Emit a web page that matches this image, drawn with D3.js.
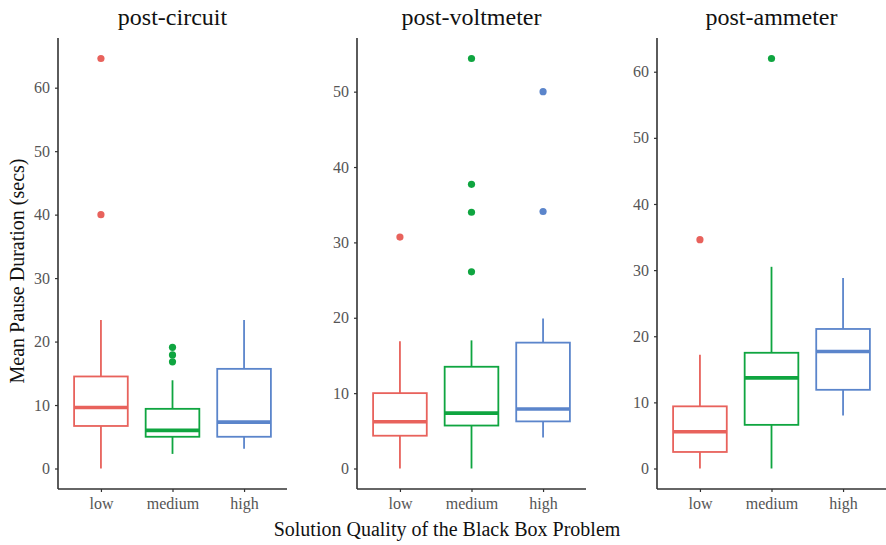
<!DOCTYPE html>
<html>
<head>
<meta charset="utf-8">
<script src="https://cdn.jsdelivr.net/npm/d3@7"></script>
<style>
  body { margin: 0; background: #fff; }
  text { font-family: "Liberation Serif", "Times New Roman", serif; }
</style>
</head>
<body>
<div id="plot"></div>
<script>
// panels and groups
const panelTitles = ["post-circuit", "post-voltmeter", "post-ammeter"]
const categories = ["low", "medium", "high"]
const groupColors = ["#e8625c", "#0fa540", "#5b85cb"]

// box stats per group: [lower whisker, q1, median, q3, upper whisker]
const circuitStats = [[0, 6.7, 9.6, 14.5, 23.4], [2.3, 5.0, 6.0, 9.4, 13.9], [3.1, 5.0, 7.3, 15.7, 23.4]]
const voltmeterStats = [[0, 4.35, 6.2, 10.0, 16.9], [0, 5.7, 7.35, 13.5, 17.0], [4.1, 6.25, 7.9, 16.7, 19.9]]
const ammeterStats = [[0, 2.5, 5.55, 9.4, 17.2], [0, 6.6, 13.7, 17.5, 30.5], [8.0, 11.9, 17.7, 21.1, 28.8]]

// outliers per group
const circuitOutliers = [[40.0, 64.6], [16.8, 17.9, 19.1], []]
const voltmeterOutliers = [[30.7], [26.1, 34.0, 37.7, 54.4], [34.1, 50.0]]
const ammeterOutliers = [[34.6], [62.0], []]

const yTicks = [
  [0, 10, 20, 30, 40, 50, 60],
  [0, 10, 20, 30, 40, 50],
  [0, 10, 20, 30, 40, 50, 60]
]

const statsList = [circuitStats, voltmeterStats, ammeterStats]
const outlierList = [circuitOutliers, voltmeterOutliers, ammeterOutliers]

const W = 886, H = 545
const plotTop = 38, plotBottom = 489
const panelLeft = [58, 357, 657], panelWidth = 229

const svg = d3.select("#plot").append("svg")
  .attr("width", W).attr("height", H)

panelTitles.forEach(function(title, p) {
  const stats = statsList[p], outs = outlierList[p]
  const maxV = d3.max([].concat(stats.map(s => s[4]), ...outs))
  const minV = 0
  const pad = (maxV - minV) * 0.05

  const x = d3.scalePoint().domain(categories)
    .range([panelLeft[p], panelLeft[p] + panelWidth]).padding(0.6)
  const y = d3.scaleLinear().domain([minV - pad, maxV + pad]).range([plotBottom, plotTop])
  const boxW = x.step() * 0.75

  const g = svg.append("g")

  // axes
  const ax = g.append("g").attr("transform", `translate(${panelLeft[p]},0)`)
    .call(d3.axisLeft(y).tickValues(yTicks[p]).tickSize(3).tickPadding(5).tickSizeOuter(0))
  const bx = g.append("g").attr("transform", `translate(0,${plotBottom})`)
    .call(d3.axisBottom(x).tickSize(3).tickPadding(6).tickSizeOuter(0))
  ;[ax, bx].forEach(a => {
    a.select(".domain").attr("stroke", "#333").attr("stroke-width", 1.6)
    a.selectAll(".tick line").attr("stroke", "#333").attr("stroke-width", 1.2)
    a.selectAll(".tick text").attr("fill", "#555").style("font-size", "16px")
      .style("font-family", '"Liberation Serif", serif')
  })
  // x axis spans full panel from y axis
  bx.select(".domain").attr("d", `M${panelLeft[p]},0H${panelLeft[p] + panelWidth}`)
  ax.select(".domain").attr("d", `M0,${plotTop}V${plotBottom}`)

  categories.forEach(function(c, i) {
    const s = stats[i], col = groupColors[i], cx = x(c)
    // whiskers
    g.append("line").attr("x1", cx).attr("x2", cx).attr("y1", y(s[0])).attr("y2", y(s[1]))
      .attr("stroke", col).attr("stroke-width", 1.8)
    g.append("line").attr("x1", cx).attr("x2", cx).attr("y1", y(s[3])).attr("y2", y(s[4]))
      .attr("stroke", col).attr("stroke-width", 1.8)
    // box
    g.append("rect").attr("x", cx - boxW / 2).attr("width", boxW)
      .attr("y", y(s[3])).attr("height", y(s[1]) - y(s[3]))
      .attr("fill", "#fff").attr("stroke", col).attr("stroke-width", 1.8)
    // median
    g.append("line").attr("x1", cx - boxW / 2).attr("x2", cx + boxW / 2)
      .attr("y1", y(s[2])).attr("y2", y(s[2]))
      .attr("stroke", col).attr("stroke-width", 3.6)
    // outliers
    g.selectAll(null).data(outs[i]).enter().append("circle")
      .attr("cx", cx).attr("cy", d => y(d)).attr("r", 3.6)
      .attr("fill", col)
  })

  svg.append("text")
    .attr("x", panelLeft[p] + panelWidth / 2).attr("y", 25)
    .attr("text-anchor", "middle")
    .style("font-size", "24px").attr("fill", "#111")
    .text(title)
})

// axis titles
svg.append("text")
  .attr("transform", "translate(24,271) rotate(-90)")
  .attr("text-anchor", "middle")
  .style("font-size", "20px").attr("fill", "#111")
  .text("Mean Pause Duration (secs)")

svg.append("text")
  .attr("x", 447).attr("y", 536)
  .attr("text-anchor", "middle")
  .style("font-size", "20px").attr("fill", "#111")
  .text("Solution Quality of the Black Box Problem")
</script>
</body>
</html>
